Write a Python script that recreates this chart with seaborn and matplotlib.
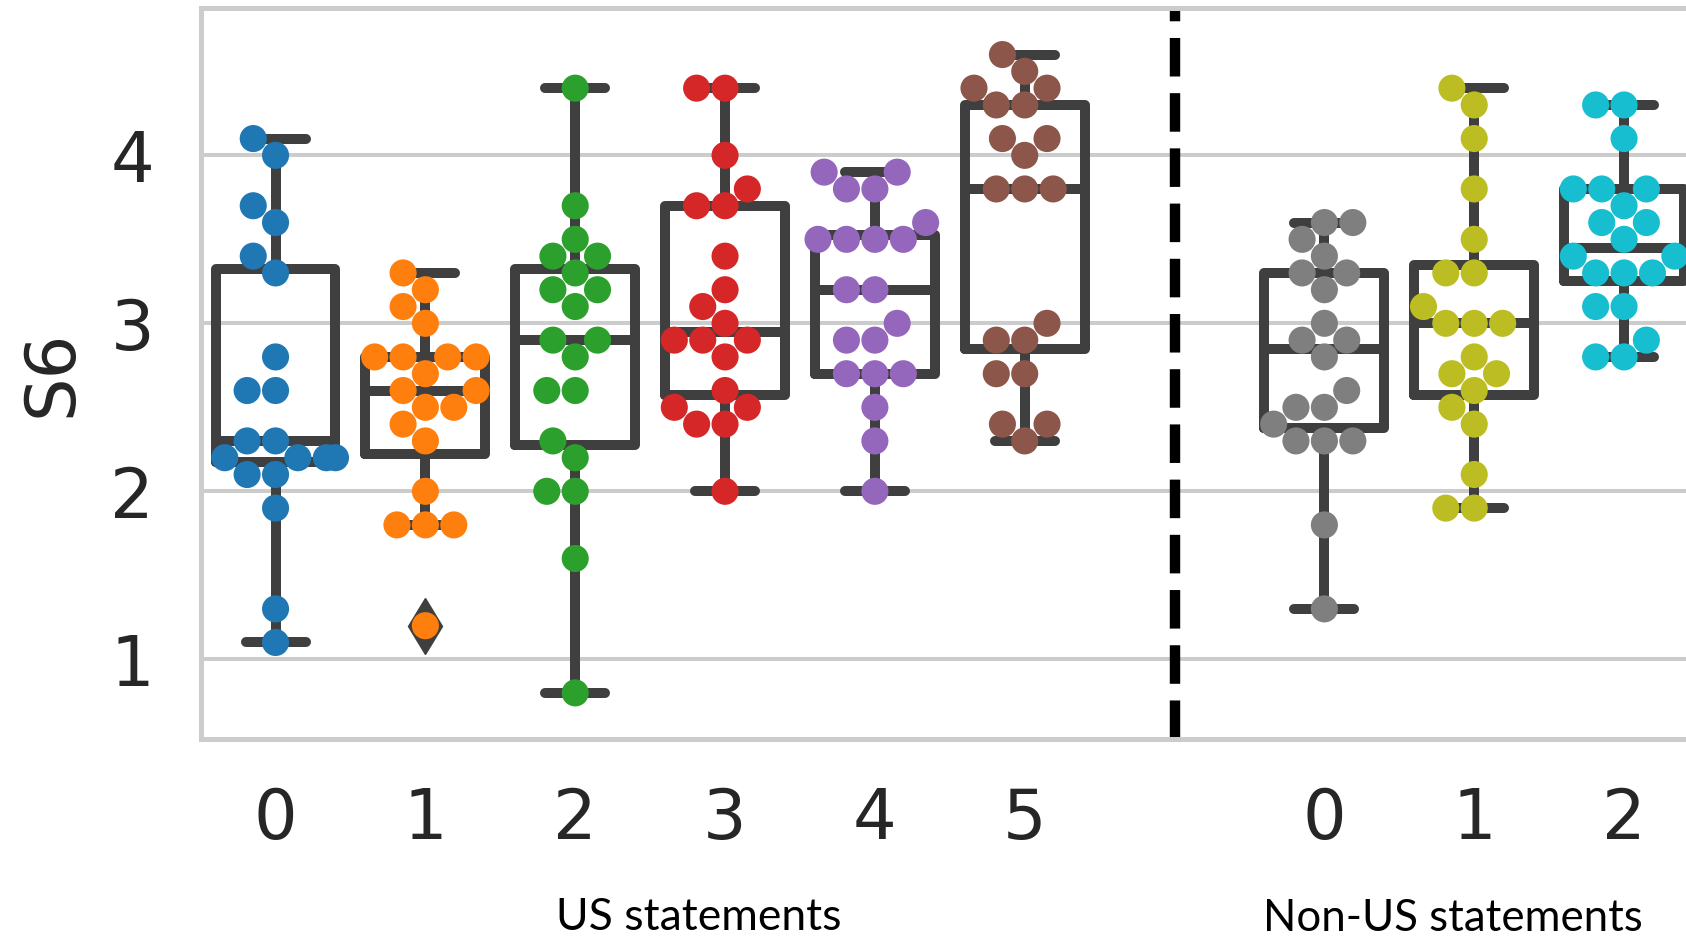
import matplotlib
matplotlib.use("Agg")
import numpy as np
import pandas as pd
import matplotlib.pyplot as plt
import seaborn as sns

# ---------------- data ----------------
categories = ["US 0", "US 1", "US 2", "US 3", "US 4", "US 5", "gap",
              "Non-US 0", "Non-US 1", "Non-US 2"]
tick_labels = ["0", "1", "2", "3", "4", "5", "", "0", "1", "2"]
colors = ["#1f77b4", "#ff7f0e", "#2ca02c", "#d62728", "#9467bd", "#8c564b",
          "#e377c2", "#7f7f7f", "#bcbd22", "#17becf"]

us0 = [4.1, 4.0, 3.7, 3.6, 3.4, 3.3, 2.8, 2.6, 2.6, 2.3, 2.3, 2.2, 2.2, 2.2, 2.2, 2.1, 2.1, 1.9, 1.3, 1.1]
us1 = [3.3, 3.2, 3.1, 3.0, 2.8, 2.8, 2.8, 2.8, 2.7, 2.6, 2.6, 2.5, 2.5, 2.4, 2.3, 2.0, 1.8, 1.8, 1.8, 1.2]
us2 = [4.4, 3.7, 3.5, 3.4, 3.4, 3.3, 3.2, 3.2, 3.1, 2.9, 2.9, 2.8, 2.6, 2.6, 2.3, 2.2, 2.0, 2.0, 1.6, 0.8]
us3 = [4.4, 4.4, 4.0, 3.8, 3.7, 3.7, 3.4, 3.2, 3.1, 3.0, 2.9, 2.9, 2.9, 2.8, 2.6, 2.5, 2.5, 2.4, 2.4, 2.0]
us4 = [3.9, 3.9, 3.8, 3.8, 3.6, 3.5, 3.5, 3.5, 3.5, 3.2, 3.2, 3.0, 2.9, 2.9, 2.7, 2.7, 2.7, 2.5, 2.3, 2.0]
us5 = [4.6, 4.5, 4.4, 4.4, 4.3, 4.3, 4.1, 4.1, 4.0, 3.8, 3.8, 3.8, 3.0, 2.9, 2.9, 2.7, 2.7, 2.4, 2.4, 2.3]
nonus0 = [3.6, 3.6, 3.5, 3.4, 3.3, 3.3, 3.2, 3.0, 2.9, 2.9, 2.8, 2.6, 2.5, 2.5, 2.4, 2.3, 2.3, 2.3, 1.8, 1.3]
nonus1 = [4.4, 4.3, 4.1, 3.8, 3.5, 3.3, 3.3, 3.1, 3.0, 3.0, 3.0, 2.8, 2.7, 2.7, 2.6, 2.5, 2.4, 2.1, 1.9, 1.9]
nonus2 = [4.3, 4.3, 4.1, 3.8, 3.8, 3.8, 3.7, 3.6, 3.6, 3.5, 3.4, 3.4, 3.3, 3.3, 3.3, 3.1, 3.1, 2.9, 2.8, 2.8]

series = {"US 0": us0, "US 1": us1, "US 2": us2, "US 3": us3, "US 4": us4,
          "US 5": us5, "Non-US 0": nonus0, "Non-US 1": nonus1, "Non-US 2": nonus2}
group_titles = ["US statements", "Non-US statements"]
y_ticks = [1, 2, 3, 4]

rows = [(k, v) for k, vals in series.items() for v in vals]
df = pd.DataFrame(rows, columns=["group", "S6"])
palette = dict(zip(categories, colors))

# ---------------- style ----------------
sns.set_theme(style="whitegrid")
plt.rcParams["font.family"] = ["DejaVu Sans"]
plt.rcParams.update({
    "axes.edgecolor": "#cccccc",
    "axes.linewidth": 3.6,
    "grid.color": "#cccccc",
    "grid.linewidth": 2.9,
})

fig = plt.figure(figsize=(16.86, 9.41), dpi=100)
ax = fig.add_axes([0.1190, 0.2144, 0.8887, 0.7776])

box_color = "#3f3f3f"
sns.boxplot(data=df, x="group", y="S6", order=categories, ax=ax,
            fill=False, color=box_color, linewidth=7.2, width=0.8,
            flierprops=dict(marker="d", markersize=29,
                            markerfacecolor=box_color,
                            markeredgecolor=box_color, markeredgewidth=1),
            capprops=dict(solid_capstyle="round"),
            whiskerprops=dict(solid_capstyle="butt"))

sns.swarmplot(data=df, x="group", y="S6", order=categories, hue="group",
              hue_order=categories, palette=palette, size=19.5,
              linewidth=0, legend=False, ax=ax, zorder=3)

ax.axvline(6, color="black", lw=7.5, ls="--", zorder=2)

ax.set_xlim(-0.5, 9.5)
ax.set_ylim(0.524, 4.88)
ax.set_xticks(range(len(categories)))
ax.set_xticklabels(tick_labels)
ax.set_yticks(y_ticks)
ax.set_yticklabels([str(t) for t in y_ticks])
ax.tick_params(axis="both", labelsize=49.5, length=0, pad=33.5,
               labelcolor="#262626")
ax.xaxis.grid(False)
ax.set_axisbelow(True)
ax.set_xlabel("")
ax.set_ylabel("S6", fontsize=49.5, color="#262626", va="baseline")
ax.yaxis.set_label_coords(-0.0861, 0.5)

fig.text(699 / 1686, 1 - 930 / 941, group_titles[0], ha="center",
         va="baseline", fontsize=32, family=["Lato", "DejaVu Sans"],
         color="black")
fig.text(1453 / 1686, 1 - 931 / 941, group_titles[1], ha="center",
         va="baseline", fontsize=31.5, family=["Lato", "DejaVu Sans"],
         color="black")

fig.savefig("out.png", dpi=100)
